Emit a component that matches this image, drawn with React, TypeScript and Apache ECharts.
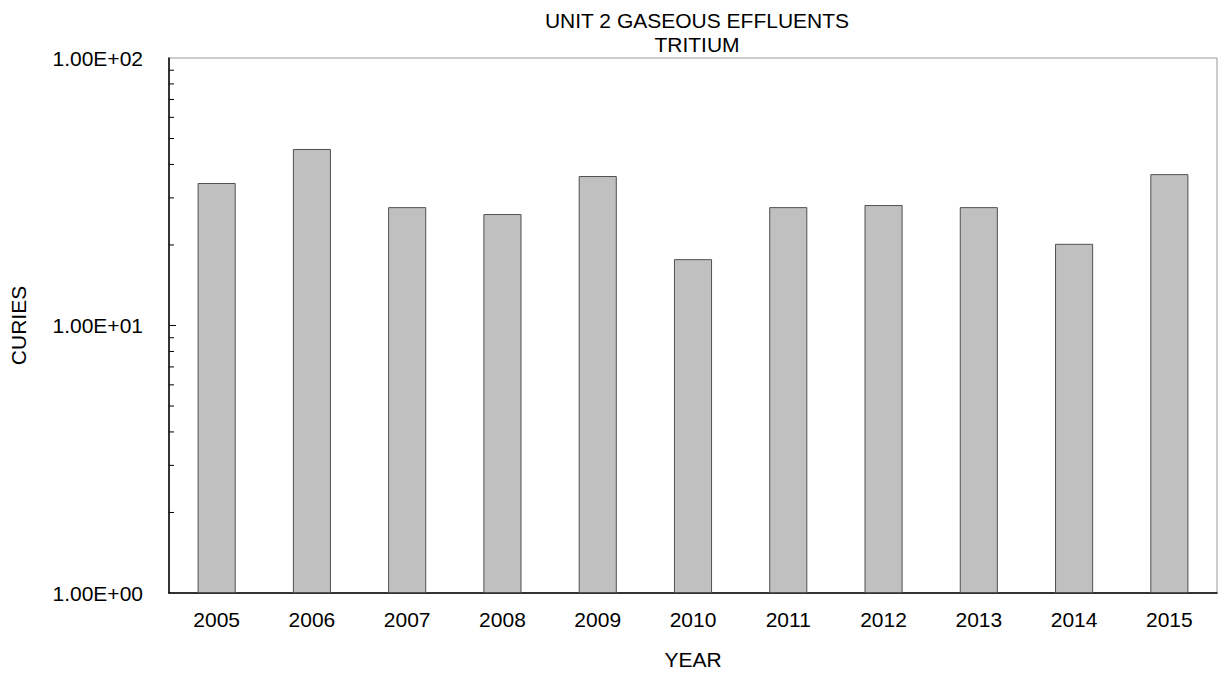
import React, { useEffect, useRef } from "react";
import * as echarts from "echarts";

const years = ["2005", "2006", "2007", "2008", "2009", "2010", "2011", "2012", "2013", "2014", "2015"];
const curies = [34.1, 45.7, 27.7, 26.1, 36.2, 17.7, 27.7, 28.2, 27.7, 20.2, 36.8];
const minorTickValues = [2, 3, 4, 5, 6, 7, 8, 9, 20, 30, 40, 50, 60, 70, 80, 90];
const majorInnerTickValues = [10];
const titleLines = ["UNIT 2 GASEOUS EFFLUENTS", "TRITIUM"];

const FONT = "'Liberation Sans', Arial, sans-serif";

function fmtSci(v: number): string {
  const e = Math.round(Math.log10(v));
  const m = v / Math.pow(10, e);
  return m.toFixed(2) + "E" + (e < 0 ? "-" : "+") + String(Math.abs(e)).padStart(2, "0");
}

export default function App() {
  const ref = useRef<HTMLDivElement>(null);
  useEffect(() => {
    if (!ref.current) return;
    const chart = echarts.init(ref.current, undefined, { renderer: "svg" });
    const tickData = [
      ...minorTickValues.map((v) => [0, v, 5]),
      ...majorInnerTickValues.map((v) => [0, v, 7]),
    ];
    chart.setOption({
      animation: false,
      backgroundColor: "#ffffff",
      textStyle: { fontFamily: FONT },
      title: {
        text: titleLines.join("\n"),
        left: 692,
        top: 3,
        textAlign: "center",
        textStyle: { fontFamily: FONT, fontSize: 21, fontWeight: "normal", color: "#000", lineHeight: 24 },
      },
      grid: {
        left: 168,
        right: 4,
        top: 58,
        bottom: 81,
        show: true,
        borderColor: "#9a9a9a",
        borderWidth: 1,
      },
      xAxis: {
        type: "category",
        data: years,
        name: "YEAR",
        nameLocation: "middle",
        nameGap: 56,
        nameTextStyle: { fontFamily: FONT, fontSize: 21, color: "#000" },
        axisLine: { show: true, lineStyle: { color: "#000", width: 1.5 } },
        axisTick: { show: false },
        axisLabel: { fontFamily: FONT, fontSize: 21, color: "#000", margin: 16 },
        splitLine: { show: false },
      },
      yAxis: {
        type: "log",
        logBase: 10,
        min: 1,
        max: 100,
        name: "CURIES",
        nameLocation: "middle",
        nameRotate: 90,
        nameGap: 140,
        nameTextStyle: { fontFamily: FONT, fontSize: 21, color: "#000" },
        axisLine: { show: true, lineStyle: { color: "#000", width: 1.5 } },
        axisTick: { show: false },
        axisLabel: { fontFamily: FONT, fontSize: 21, color: "#000", margin: 26, formatter: (v: number) => fmtSci(v) },
        splitLine: { show: false },
      },
      series: [
        {
          type: "bar",
          data: curies,
          barWidth: "40%",
          itemStyle: { color: "#c0c0c0", borderColor: "#505050", borderWidth: 1 },
        },
        {
          type: "custom",
          data: tickData,
          encode: { x: 0, y: 1 },
          silent: true,
          z: 5,
          renderItem: (params: any, api: any) => {
            const cs = params.coordSys;
            const y = api.coord([0, api.value(1)])[1];
            const len = api.value(2);
            return {
              type: "line",
              shape: { x1: cs.x, y1: y, x2: cs.x + len, y2: y },
              style: { stroke: "#000", lineWidth: 1 },
            };
          },
        },
      ],
    });
    return () => chart.dispose();
  }, []);
  return (
    <div
      ref={ref}
      style={{ position: "absolute", left: 0, top: 0, width: 1221, height: 675 }}
    />
  );
}
